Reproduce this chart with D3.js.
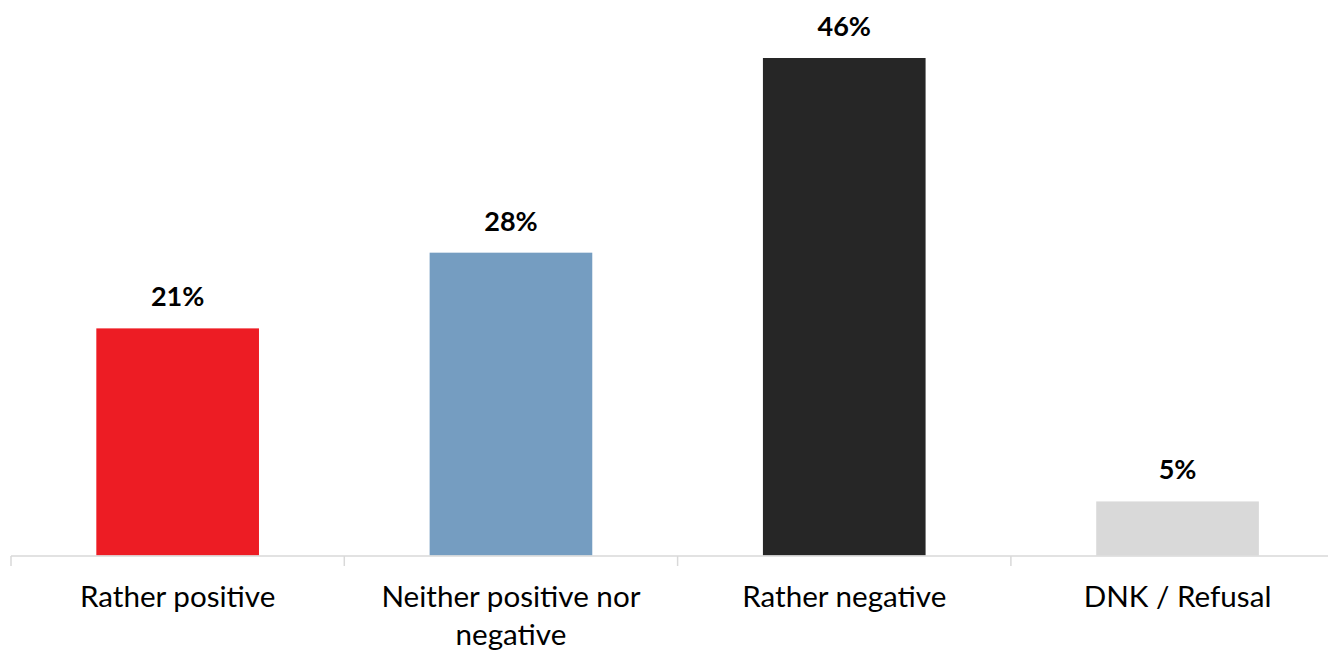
<!DOCTYPE html>
<html><head><meta charset="utf-8">
<script src="https://cdn.jsdelivr.net/npm/d3@7"></script>
<style>html,body{margin:0;padding:0;background:#fff;}svg{display:block;}</style>
</head><body>
<svg id="chart" width="1328" height="651"></svg>
<script>
const categories = ["Rather positive", "Neither positive nor negative", "Rather negative", "DNK / Refusal"];
const values = [21, 28, 46, 5];
const colors = ["#ED1C24", "#759DC1", "#262626", "#D9D9D9"];
const catLines = [["Rather positive"], ["Neither positive nor", "negative"], ["Rather negative"], ["DNK / Refusal"]];

const svg = d3.select("#chart");
const font = "Lato, 'Open Sans', sans-serif";
const x0 = 11, bandW = 333.3;
const x = d3.scaleBand().domain(categories).range([x0, x0 + bandW * 4]).paddingInner(0.512).paddingOuter(0.256);
const y = d3.scaleLinear().domain([0, 46]).range([555.5, 58]);

svg.selectAll("rect.bar").data(values).join("rect")
  .attr("class", "bar")
  .attr("x", (d, i) => x(categories[i]))
  .attr("width", x.bandwidth())
  .attr("y", d => y(d))
  .attr("height", d => y(0) - y(d))
  .attr("fill", (d, i) => colors[i]);

// axis line and ticks
const axisG = svg.append("g");
axisG.append("line").attr("x1", x0).attr("x2", 1328).attr("y1", 556).attr("y2", 556)
  .attr("stroke", "#D9D9D9").attr("stroke-width", 1.5);
d3.range(5).forEach(i => {
  axisG.append("line").attr("x1", x0 + i * bandW).attr("x2", x0 + i * bandW)
    .attr("y1", 556).attr("y2", 566).attr("stroke", "#D9D9D9").attr("stroke-width", 1.5);
});

// value labels
svg.selectAll("text.val").data(values).join("text")
  .attr("class", "val")
  .attr("x", (d, i) => x(categories[i]) + x.bandwidth() / 2)
  .attr("y", d => y(d) - 22)
  .attr("text-anchor", "middle")
  .attr("font-family", font).attr("font-weight", "bold").attr("font-size", 27)
  .attr("fill", "#000")
  .text(d => d + "%");

// category labels
categories.forEach((c, i) => {
  const t = svg.append("text")
    .attr("text-anchor", "middle")
    .attr("font-family", font).attr("font-size", 29.6).attr("fill", "#000");
  catLines[i].forEach((line, j) => {
    t.append("tspan").attr("x", x(c) + x.bandwidth() / 2).attr("y", 607 + j * 38).text(line);
  });
});
</script>
</body></html>
